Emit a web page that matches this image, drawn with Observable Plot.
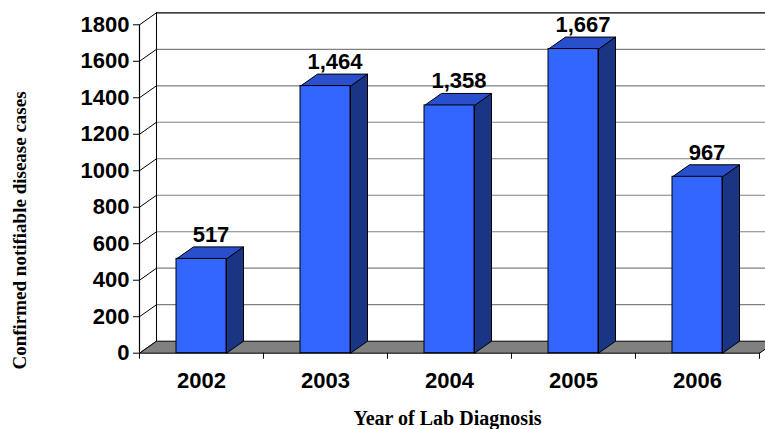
<!DOCTYPE html>
<html>
<head>
<meta charset="utf-8">
<script src="https://cdn.jsdelivr.net/npm/d3@7"></script>
<script src="https://cdn.jsdelivr.net/npm/@observablehq/plot@0.6"></script>
<style>
  html, body { margin: 0; padding: 0; background: white; }
</style>
</head>
<body>
<div id="chart"></div>
<script>
// ---- data ----
const years = ["2002", "2003", "2004", "2005", "2006"];
const cases = [517, 1464, 1358, 1667, 967];
const yTicks = [0, 200, 400, 600, 800, 1000, 1200, 1400, 1600, 1800];
const xTitle = "Year of Lab Diagnosis";
const yTitle = "Confirmed notifiable disease cases";

// ---- derived ----
const data = years.map((year, i) => ({ year, cases: cases[i], c: i + 0.5 }));
const DX = 17 / 124;            // 3D depth, in category units
const DY = 12 * 1800 / 328.4;   // 3D depth, in value units
const HW = 25 / 124;            // half bar width, in category units
const fmt = d3.format(",");

const poly = (key, pts) => pts.map(([x, y]) => ({ key, x, y }));
const sidePts = data.flatMap(d => {
  const x0 = d.c + HW, v = d.cases;
  return poly(d.year, [[x0, 0], [x0 + DX, DY], [x0 + DX, v + DY], [x0, v], [x0, 0]]);
});
const topPts = data.flatMap(d => {
  const a = d.c - HW, b = d.c + HW, v = d.cases;
  return poly(d.year, [[a, v], [b, v], [b + DX, v + DY], [a + DX, v + DY], [a, v]]);
});
const n = years.length;
const floorPts = poly("floor", [[0, 0], [n, 0], [n + DX, DY], [DX, DY], [0, 0]]);
const boundaries = d3.range(n + 1);

const sans = "'Liberation Sans', Arial, Helvetica, sans-serif";
const serif = "'Liberation Serif', 'Times New Roman', serif";

const chart = Plot.plot({
  width: 765,
  height: 429,
  marginLeft: 139,
  marginRight: 6,
  marginTop: 24.3,
  marginBottom: 76.3,
  x: { domain: [0, n], label: null },
  y: { domain: [0, 1800], label: null },
  style: { fontFamily: sans, background: "white", color: "black" },
  marks: [
    // back wall gridlines
    Plot.ruleY(yTicks.filter(t => t > 0 && t < 1800), { y: t => t + DY, x1: () => DX, x2: () => n + DX, stroke: "#808080", strokeWidth: 1.2 }),
    Plot.ruleY([1800], { y: t => t + DY, x1: () => DX, x2: () => n + DX, stroke: "black", strokeWidth: 1.2 }),
    // left wall diagonals
    Plot.link(yTicks, { x1: () => 0, y1: t => t, x2: () => DX, y2: t => t + DY, stroke: "black", strokeWidth: 1 }),
    // back-left vertical edge
    Plot.link([0], { x1: () => DX, y1: () => DY, x2: () => DX, y2: () => 1800 + DY, stroke: "black", strokeWidth: 1 }),
    // floor
    Plot.line(floorPts, { x: "x", y: "y", z: "key", fill: "#808080", stroke: "black", strokeWidth: 1, strokeLinejoin: "miter" }),
    // front axis line
    Plot.ruleX([0], { y1: () => 0, y2: () => 1800, stroke: "black", strokeWidth: 1.2 }),
    Plot.axisY(yTicks, { tickSize: 6, tickPadding: 4, tickFormat: d => `${d}`, fontSize: 22, fontWeight: "bold", color: "black" }),
    // bars
    Plot.line(sidePts, { x: "x", y: "y", z: "key", fill: "#1b3585", stroke: "black", strokeWidth: 1, strokeLinejoin: "miter" }),
    Plot.line(topPts, { x: "x", y: "y", z: "key", fill: "#2a4fcc", stroke: "black", strokeWidth: 1, strokeLinejoin: "miter" }),
    Plot.rect(data, { x1: d => d.c - HW, x2: d => d.c + HW, y1: () => 0, y2: "cases", fill: "#3366ff", stroke: "black", strokeWidth: 1 }),
    // value labels
    Plot.text(data, { x: d => d.c + DX / 2, y: d => d.cases + DY, text: d => fmt(d.cases), lineAnchor: "bottom", dy: -5, dx: 1, fontSize: 22, fontWeight: "bold", fill: "black" }),
    // x axis ticks at category boundaries
    Plot.axisX(boundaries, { tickSize: 6, tickFormat: () => "", color: "black" }),
    // year labels
    Plot.text(data, { x: "c", y: () => 0, text: "year", dy: 28, fontSize: 22, fontWeight: "bold", fill: "black" }),
    // axis titles
    Plot.text([yTitle], { frameAnchor: "left", textAnchor: "middle", lineAnchor: "middle", rotate: -90, dx: -120, dy: 41.5, fontFamily: serif, fontSize: 19, fontWeight: "bold", fill: "black" }),
    Plot.text([xTitle], { frameAnchor: "bottom", textAnchor: "middle", lineAnchor: "middle", dx: -2, dy: 65, fontFamily: serif, fontSize: 20, fontWeight: "bold", fill: "black" })
  ]
});

document.getElementById("chart").appendChild(chart);
</script>
</body>
</html>
